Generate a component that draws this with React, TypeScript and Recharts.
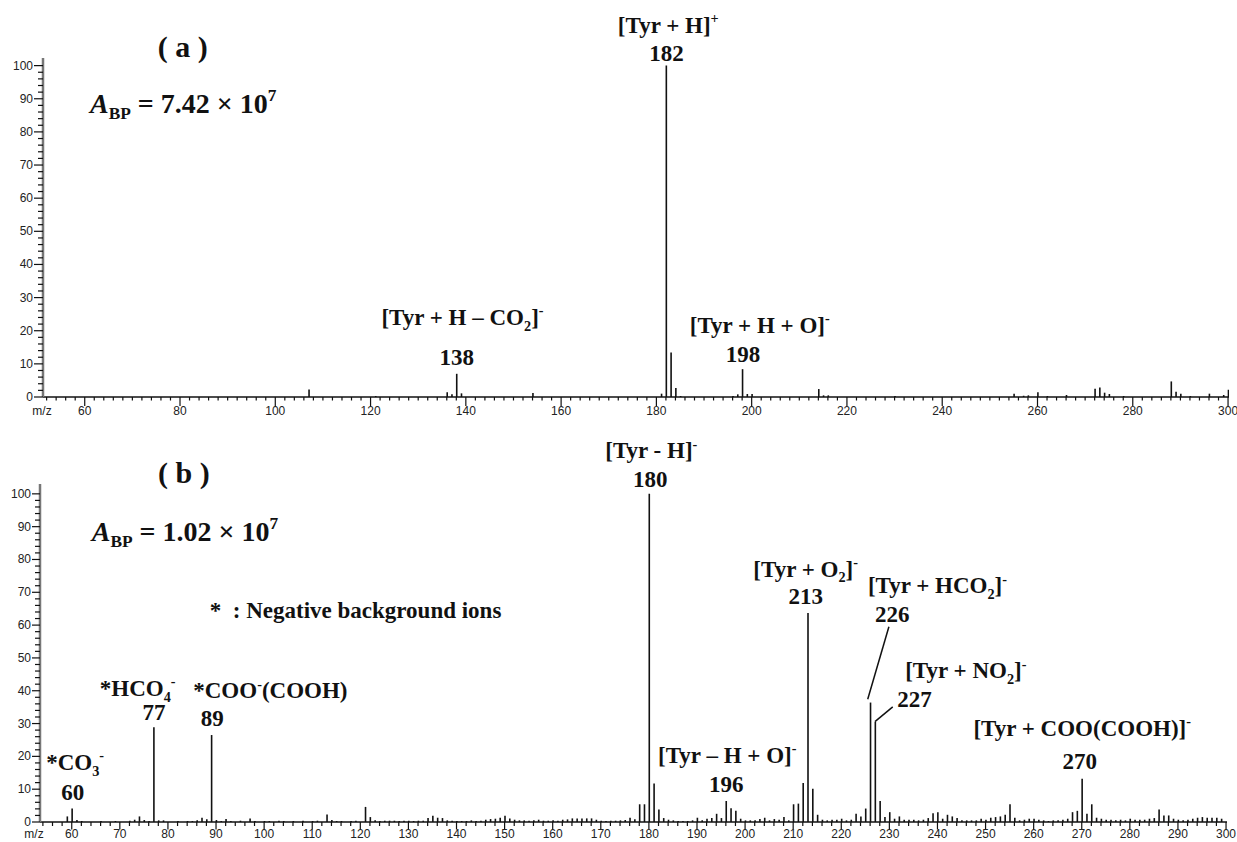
import React from "react";
import {
  ComposedChart,
  Bar,
  XAxis,
  YAxis,
  ReferenceDot,
  ReferenceLine,
} from "recharts";

// (a) positive ions: m/z and relative abundance (%)
const mzA = [
  107, 121, 136, 137, 138, 139, 154, 181, 182, 183, 184, 185, 196, 197, 198,
  199, 200, 214, 215, 216, 230, 255, 257, 258, 260, 262, 266, 272, 273, 274,
  275, 278, 288, 289, 290, 292, 296, 299, 300,
];
const relA = [
  2.3, 0.3, 1.4, 0.8, 7.0, 1.1, 1.2, 1.0, 100, 13.4, 2.7, 0.3, 0.3, 0.8, 8.4,
  0.9, 0.9, 2.4, 0.5, 0.5, 0.3, 1.0, 0.4, 0.5, 1.4, 0.3, 0.6, 2.5, 2.9, 1.3,
  0.9, 0.3, 4.7, 1.6, 1.0, 0.3, 1.0, 0.6, 2.2,
];

// (b) negative ions
const mzB = [
  59, 60, 61, 62, 66, 69, 72, 73, 74, 75, 76, 77, 78, 79, 82, 84, 85, 86, 87,
  88, 89, 90, 91, 92, 93, 95, 97, 98, 100, 101, 103, 104, 106, 108, 110, 111,
  113, 114, 115, 116, 118, 119, 121, 122, 123, 124, 125, 126, 127, 128, 129,
  130, 131, 132, 133, 134, 135, 136, 137, 138, 139, 140, 141, 142, 143, 144,
  145, 146, 147, 148, 149, 150, 151, 152, 153, 154, 155, 156, 157, 158, 159,
  160, 161, 162, 163, 164, 165, 166, 167, 168, 169, 170, 171, 172, 173, 174,
  175, 176, 177, 178, 179, 180, 181, 182, 183, 184, 185, 186, 187, 188, 189,
  190, 191, 192, 193, 194, 195, 196, 197, 198, 199, 200, 201, 202, 203, 204,
  205, 206, 207, 208, 209, 210, 211, 212, 213, 214, 215, 216, 217, 218, 219,
  220, 221, 222, 223, 224, 225, 226, 227, 228, 229, 230, 231, 232, 233, 234,
  235, 236, 237, 238, 239, 240, 241, 242, 243, 244, 245, 246, 247, 248, 249,
  250, 251, 252, 253, 254, 255, 256, 257, 258, 259, 260, 261, 262, 263, 264,
  265, 266, 267, 268, 269, 270, 271, 272, 273, 274, 275, 276, 277, 278, 279,
  280, 281, 282, 283, 284, 285, 286, 287, 288, 289, 290, 291, 292, 293, 294,
  295, 296, 297, 298, 299,
];
const relB = [
  1.7, 4.1, 0.6, 0.3, 0.3, 0.3, 0.4, 0.7, 1.7, 0.6, 0.3, 28.9, 0.5, 0.5, 0.3,
  0.3, 0.3, 0.5, 1.3, 0.8, 26.5, 0.6, 0.3, 0.9, 0.3, 0.4, 1.1, 0.3, 0.3, 0.3,
  0.4, 0.3, 0.3, 0.4, 0.3, 0.4, 2.3, 0.6, 0.3, 0.3, 0.3, 0.4, 4.6, 1.5, 0.5,
  0.3, 0.4, 0.4, 0.4, 0.3, 0.4, 0.4, 0.3, 0.4, 0.4, 1.2, 1.9, 1.3, 1.2, 0.5,
  0.4, 0.3, 0.3, 0.3, 0.5, 0.3, 0.4, 0.7, 0.9, 1.0, 1.3, 1.9, 1.1, 0.7, 0.5,
  0.5, 0.4, 0.5, 0.7, 0.4, 0.4, 0.5, 0.4, 0.7, 0.8, 1.1, 1.1, 1.1, 1.1, 1.1,
  0.7, 0.4, 0.3, 0.4, 0.4, 0.5, 0.6, 1.3, 0.8, 5.4, 5.4, 100, 11.7, 3.8, 1.2,
  0.7, 0.5, 0.3, 0.3, 0.3, 0.5, 1.3, 0.5, 1.0, 1.2, 2.5, 1.2, 6.4, 4.2, 3.4,
  1.0, 0.5, 0.5, 0.5, 0.9, 1.3, 0.5, 0.9, 0.7, 1.5, 0.5, 5.4, 5.6, 11.9, 63.7,
  10.1, 2.2, 0.7, 0.5, 0.7, 0.7, 1.0, 0.5, 0.7, 2.5, 1.7, 4.1, 36.4, 30.5, 6.4,
  1.5, 3.0, 1.0, 1.7, 0.7, 0.7, 0.7, 0.5, 0.7, 1.2, 2.7, 3.0, 1.0, 2.2, 1.7,
  1.2, 0.5, 0.5, 0.5, 0.5, 1.0, 0.7, 1.3, 1.5, 1.7, 2.2, 5.4, 1.3, 0.5, 0.7,
  1.0, 1.0, 0.7, 0.5, 0.3, 0.5, 0.5, 0.7, 1.0, 3.0, 3.4, 13.2, 2.5, 5.4, 1.3,
  1.0, 0.7, 0.7, 0.5, 0.7, 0.5, 1.0, 0.7, 0.7, 0.7, 1.0, 1.2, 3.8, 2.0, 2.0,
  1.0, 0.7, 0.5, 0.7, 1.0, 1.3, 1.5, 1.3, 1.3, 1.3, 1.0,
];

// labelled x ticks
const majorTicksA = [60, 80, 100, 120, 140, 160, 180, 200, 220, 240, 260, 280, 300];
const majorTicksB = [
  60, 70, 80, 90, 100, 110, 120, 130, 140, 150, 160, 170, 180, 190, 200, 210,
  220, 230, 240, 250, 260, 270, 280, 290, 300,
];
const yLabels = [0, 10, 20, 30, 40, 50, 60, 70, 80, 90, 100];

type Seg = [string, ("sup" | "sub" | "it")?];
type Ann = { segs: Seg[]; mz: number; y: number; size?: number; anchor?: string };

// annotation texts, anchored in data space (m/z, abundance of the baseline)
const annA: Ann[] = [
  { segs: [["( a )"]], mz: 80.6, y: 102.7, size: 30 },
  { segs: [["A", "it"], ["BP", "sub"], [" = 7.42 × 10"], ["7", "sup"]], mz: 61.1, y: 85.8, size: 28, anchor: "start" },
  { segs: [["[Tyr + H]"], ["+", "sup"]], mz: 182.5, y: 109.9 },
  { segs: [["182"]], mz: 182.1, y: 101.4 },
  { segs: [["[Tyr + H – CO"], ["2", "sub"], ["]"], ["-", "sup"]], mz: 139.3, y: 21.7 },
  { segs: [["138"]], mz: 138.1, y: 9.7 },
  { segs: [["[Tyr + H + O]"], ["-", "sup"]], mz: 201.7, y: 19.3 },
  { segs: [["198"]], mz: 198.2, y: 10.6 },
];

const annB: Ann[] = [
  { segs: [["( b )"]], mz: 83.3, y: 103.3, size: 30 },
  { segs: [["A", "it"], ["BP", "sub"], [" = 1.02 × 10"], ["7", "sup"]], mz: 64.15, y: 85.7, size: 28, anchor: "start" },
  { segs: [["*  : Negative background ions"]], mz: 88.7, y: 62.1, anchor: "start" },
  { segs: [["*HCO"], ["4", "sub"], ["-", "sup"]], mz: 73.7, y: 38.4 },
  { segs: [["77"]], mz: 77.1, y: 31.1 },
  { segs: [["*COO"], ["-", "sup"], ["(COOH)"]], mz: 101.3, y: 37.7 },
  { segs: [["89"]], mz: 89.2, y: 29.3 },
  { segs: [["*CO"], ["3", "sub"], ["-", "sup"]], mz: 60.7, y: 15.8 },
  { segs: [["60"]], mz: 60.2, y: 6.7 },
  { segs: [["[Tyr - H]"], ["-", "sup"]], mz: 180.5, y: 110.8 },
  { segs: [["180"]], mz: 180.3, y: 102.2 },
  { segs: [["[Tyr – H + O]"], ["-", "sup"]], mz: 196.3, y: 18.1 },
  { segs: [["196"]], mz: 196.1, y: 9.2 },
  { segs: [["[Tyr + O"], ["2", "sub"], ["]"], ["-", "sup"]], mz: 212.6, y: 74.8 },
  { segs: [["213"]], mz: 212.6, y: 66.4 },
  { segs: [["[Tyr + HCO"], ["2", "sub"], ["]"], ["-", "sup"]], mz: 240.0, y: 69.7 },
  { segs: [["226"]], mz: 230.6, y: 61.0 },
  { segs: [["[Tyr + NO"], ["2", "sub"], ["]"], ["-", "sup"]], mz: 245.9, y: 43.8 },
  { segs: [["227"]], mz: 235.2, y: 34.9 },
  { segs: [["[Tyr + COO(COOH)]"], ["-", "sup"]], mz: 270.1, y: 26.2 },
  { segs: [["270"]], mz: 269.6, y: 16.1 },
];

// leader lines for 226 / 227
const leadersB = [
  [{ x: 229.9, y: 59.5 }, { x: 225.5, y: 37.4 }],
  [{ x: 230.7, y: 35.1 }, { x: 227.0, y: 30.6 }],
];

const SERIF = '"Liberation Serif", "Times New Roman", serif';
const SANS = '"Liberation Sans", Arial, sans-serif';

const evens = (from: number, to: number) => {
  const out: number[] = [];
  for (let v = from; v <= to; v += 2) out.push(v);
  return out;
};

const RichText = ({ x, y, segs, size = 23, anchor = "middle" }: any) => {
  let shift = 0;
  const spans = (segs as Seg[]).map(([t, k], i) => {
    const target = k === "sup" ? -0.42 * size : k === "sub" ? 0.24 * size : 0;
    const dy = target - shift;
    shift = target;
    const small = k === "sup" || k === "sub";
    return (
      <tspan
        key={i}
        dy={dy}
        fontSize={small ? size * 0.62 : size}
        fontStyle={k === "it" ? "italic" : "normal"}
      >
        {t}
      </tspan>
    );
  });
  return (
    <text
      x={x}
      y={y}
      textAnchor={anchor}
      fontFamily={SERIF}
      fontWeight="bold"
      fontSize={size}
      fill="#111"
      style={{ whiteSpace: "pre" }}
    >
      {spans}
    </text>
  );
};

const makeXTick =
  (majors: number[], majorLen: number, minorLen: number, labelDy: number) =>
  (p: any) => {
    const v = p.payload.value;
    const major = majors.includes(v);
    return (
      <g>
        <line
          x1={p.x}
          x2={p.x}
          y1={p.y}
          y2={p.y + (major ? majorLen : minorLen)}
          stroke="#111"
          strokeWidth={1.2}
        />
        {major && (
          <text
            x={p.x}
            y={p.y + labelDy}
            textAnchor="middle"
            fontFamily={SANS}
            fontSize={12}
            fill="#222"
          >
            {v}
          </text>
        )}
      </g>
    );
  };

const makeYTick = (majorLen: number, minorLen: number, gap: number) => (p: any) => {
  const v = p.payload.value;
  const major = yLabels.includes(v);
  return (
    <g>
      <line
        x1={p.x}
        x2={p.x - (major ? majorLen : minorLen)}
        y1={p.y}
        y2={p.y}
        stroke="#111"
        strokeWidth={1.2}
      />
      {major && (
        <text
          x={p.x - gap}
          y={p.y + 4}
          textAnchor="end"
          fontFamily={SANS}
          fontSize={12}
          fill="#222"
        >
          {v}
        </text>
      )}
    </g>
  );
};

const annotations = (list: Ann[], prefix: string) =>
  list.map((a, i) => (
    <ReferenceDot
      key={prefix + i}
      x={a.mz}
      y={a.y}
      r={0.5}
      fill="none"
      stroke="none"
      ifOverflow="visible"
      label={(p: any) => (
        <RichText
          x={p.viewBox.x + p.viewBox.width / 2}
          y={p.viewBox.y + p.viewBox.height / 2}
          segs={a.segs}
          size={a.size}
          anchor={a.anchor}
        />
      )}
    />
  ));

interface PanelProps {
  data: { mz: number; rel: number }[];
  top: number;
  height: number;
  margin: { top: number; right: number; left: number; bottom: number };
  yWidth: number;
  xHeight: number;
  xDomain: [number, number];
  yMax: number;
  xTicks: number[];
  majors: number[];
  xTick: (p: any) => any;
  yTick: (p: any) => any;
  children?: React.ReactNode;
}

const SpectrumPanel: React.FC<PanelProps> = (props) => (
  <div style={{ position: "absolute", left: 0, top: props.top }}>
    <ComposedChart
      width={1237}
      height={props.height}
      data={props.data}
      margin={props.margin}
      style={{ overflow: "visible" }}
    >
      <XAxis
        dataKey="mz"
        type="number"
        domain={props.xDomain}
        allowDataOverflow
        ticks={props.xTicks}
        interval={0}
        height={props.xHeight}
        tickSize={0}
        tickMargin={0}
        tickLine={false}
        axisLine={{ stroke: "#111", strokeWidth: 1.3 }}
        tick={props.xTick}
      />
      <YAxis
        type="number"
        domain={[0, props.yMax]}
        allowDataOverflow
        ticks={evens(0, 100)}
        interval={0}
        width={props.yWidth}
        tickSize={0}
        tickMargin={0}
        tickLine={false}
        axisLine={{ stroke: "#777", strokeWidth: 2.5 }}
        tick={props.yTick}
      />
      <Bar dataKey="rel" fill="#111" barSize={1.6} isAnimationActive={false} />
      {props.children}
    </ComposedChart>
  </div>
);

const axisName = (left: number, top: number) => (
  <div
    style={{
      position: "absolute",
      left,
      top,
      width: 30,
      textAlign: "center",
      fontFamily: SANS,
      fontSize: 12,
      lineHeight: "12px",
      color: "#222",
    }}
  >
    m/z
  </div>
);

const App: React.FC = () => {
  const dataA = mzA.map((mz, i) => ({ mz, rel: relA[i] }));
  const dataB = mzB.map((mz, i) => ({ mz, rel: relB[i] }));

  return (
    <div
      style={{
        position: "absolute",
        left: 0,
        top: 0,
        width: 1237,
        height: 842,
        background: "#fff",
        overflow: "hidden",
      }}
    >
      <SpectrumPanel
        data={dataA}
        top={0}
        height={420}
        margin={{ top: 58, right: 8, left: 0, bottom: 0 }}
        yWidth={43}
        xHeight={23}
        xDomain={[51.24, 300.2]}
        yMax={102.3}
        xTicks={evens(52, 300)}
        majors={majorTicksA}
        xTick={makeXTick(majorTicksA, 9, 3.5, 18)}
        yTick={makeYTick(9, 5, 10)}
      >
        {annotations(annA, "a")}
      </SpectrumPanel>

      <SpectrumPanel
        data={dataB}
        top={420}
        height={422}
        margin={{ top: 64, right: 10, left: 0, bottom: 0 }}
        yWidth={40}
        xHeight={20}
        xDomain={[53.4, 300.2]}
        yMax={103}
        xTicks={evens(54, 300)}
        majors={majorTicksB}
        xTick={makeXTick(majorTicksB, 7.5, 4, 16)}
        yTick={makeYTick(8, 5, 9)}
      >
        {leadersB.map((seg, i) => (
          <ReferenceLine
            key={"l" + i}
            segment={seg}
            stroke="#111"
            strokeWidth={1.5}
            ifOverflow="visible"
          />
        ))}
        {annotations(annB, "b")}
      </SpectrumPanel>

      {axisName(27, 405)}
      {axisName(19, 828)}
    </div>
  );
};

export default App;
